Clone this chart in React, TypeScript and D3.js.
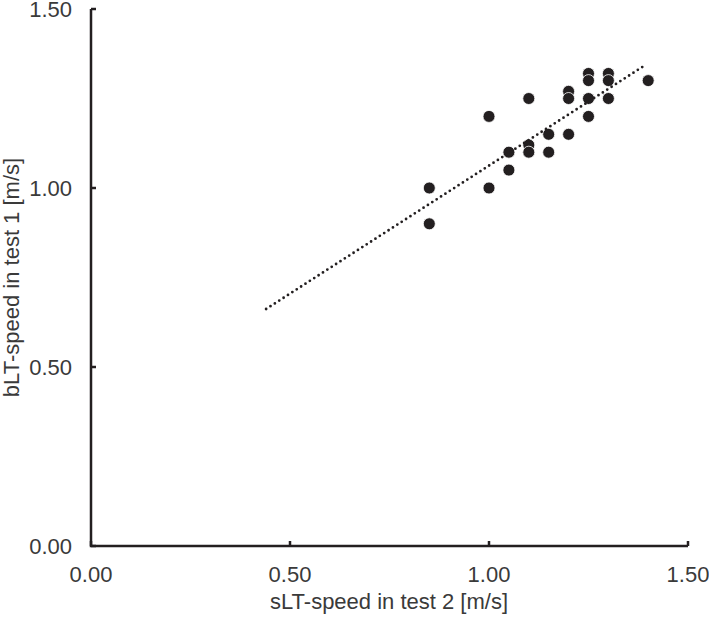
import React from "react";
import * as d3 from "d3";

const xValues = [1.4, 1.25, 1.25, 1.3, 1.3, 1.1, 1.2, 1.2, 1.25, 1.3, 1.0, 1.25, 1.15, 1.2, 1.1, 1.1, 1.05, 1.15, 1.05, 0.85, 1.0, 0.85];
const yValues = [1.3, 1.32, 1.3, 1.32, 1.3, 1.25, 1.27, 1.25, 1.25, 1.25, 1.2, 1.2, 1.15, 1.15, 1.12, 1.1, 1.1, 1.1, 1.05, 1.0, 1.0, 0.9];
const trendX = [0.44, 1.395];
const trendY = [0.662, 1.345];
const xTicks = [0, 0.5, 1.0, 1.5];
const yTicks = [0, 0.5, 1.0, 1.5];
const xTitle = "sLT-speed in test 2 [m/s]";
const yTitle = "bLT-speed in test 1 [m/s]";

export default function App() {
  const W = 709, H = 618;
  const x = d3.scaleLinear().domain([0, 1.5]).range([91, 688]);
  const y = d3.scaleLinear().domain([0, 1.5]).range([546, 9]);
  const font = "'Liberation Sans', Arial, sans-serif";
  const axisColor = "#231f20";
  const textColor = "#3a3a3a";
  const fs = 22;
  const line = d3.line<number>().x((_, i) => x(trendX[i])).y((d) => y(d));
  return (
    <svg width={W} height={H} style={{ position: "absolute", left: 0, top: 0 }}>
      <rect width={W} height={H} fill="#fff" />
      <path d={`M${x(0)},${y(1.5)}V${y(0)}H${x(1.5)}`} fill="none" stroke={axisColor} strokeWidth={2.5} />
      {xTicks.map((t) => (
        <g key={"xt" + t}>
          <line x1={x(t)} x2={x(t)} y1={y(0)} y2={y(0) - 5} stroke={axisColor} strokeWidth={2.5} />
          <text x={x(t)} y={582} textAnchor="middle" fontFamily={font} fontSize={fs} fill={textColor}>
            {t.toFixed(2)}
          </text>
        </g>
      ))}
      {yTicks.map((t) => (
        <g key={"yt" + t}>
          <line x1={x(0)} x2={x(0) + 5} y1={y(t)} y2={y(t)} stroke={axisColor} strokeWidth={2.5} />
          <text x={72} y={y(t) + 7.8} textAnchor="end" fontFamily={font} fontSize={fs} fill={textColor}>
            {t.toFixed(2)}
          </text>
        </g>
      ))}
      <text x={(x(0) + x(1.5)) / 2 - 0.5} y={609} textAnchor="middle" fontFamily={font} fontSize={fs} fill={textColor}>
        {xTitle}
      </text>
      <text
        transform={`translate(19,${(y(0) + y(1.5)) / 2}) rotate(-90)`}
        textAnchor="middle"
        fontFamily={font}
        fontSize={fs}
        fill={textColor}
      >
        {yTitle}
      </text>
      {xValues.map((v, i) => (
        <circle key={i} cx={x(v)} cy={y(yValues[i])} r={6} fill={axisColor} stroke="#fff" strokeWidth={0.8} />
      ))}
      <path
        d={line(trendY) || ""}
        fill="none"
        stroke={axisColor}
        strokeWidth={2.8}
        strokeDasharray="0 5.2"
        strokeLinecap="round"
      />
    </svg>
  );
}
